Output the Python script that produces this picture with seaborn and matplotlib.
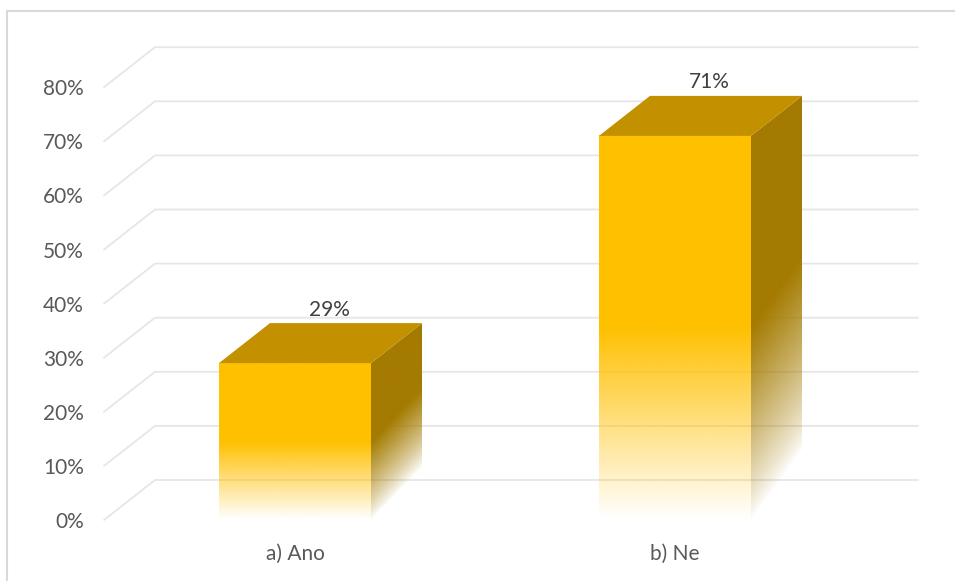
import matplotlib
matplotlib.use("Agg")
import matplotlib.pyplot as plt
from matplotlib.patches import Polygon, Rectangle
import numpy as np
import seaborn as sns

# data
categories = ["a) Ano", "b) Ne"]
values = [0.29, 0.71]
labels = ["29%", "71%"]
ticks = [0.0, 0.1, 0.2, 0.3, 0.4, 0.5, 0.6, 0.7, 0.8]
tick_labels = ["0%", "10%", "20%", "30%", "40%", "50%", "60%", "70%", "80%"]

gold = np.array([255, 192, 0]) / 255
side_col = np.array([164, 123, 0]) / 255
top_col = "#C39100"

sns.set_style("white")
plt.rcParams["font.family"] = ["Lato", "DejaVu Sans"]

fig = plt.figure(figsize=(9.55, 5.81), dpi=100)
W, H = 955, 581
ax = fig.add_axes([95 / W, (H - 538) / H, (W - 95) / W, 538 / H])

# depth of the fake 3d
dx = 51 / 380
dy = 40 / 541

sns.barplot(x=categories, y=values, width=0.4, color="#FFC000", ax=ax, zorder=3)

ax.set_xlim((95 - 295) / 380, (955 - 295) / 380)
ax.set_ylim((520 - 538) / 541, 520 / 541)

# back wall grid lines
xl = (104 - 295) / 380
xr = (918 - 295) / 380
for v in ticks:
    ax.plot([xl, xl + dx, xr], [v, v + dy, v + dy], color="#E6E6E6", lw=1.3, zorder=1)


def fade(t, start):
    return np.clip(t / start, 0, 1)


for bar, v, lab in zip(ax.patches, values, labels):
    x0 = bar.get_x()
    x1 = x0 + bar.get_width()
    bar.set_facecolor("none")
    bar.set_edgecolor("none")

    # front face with fade to white at the bottom
    ys = np.linspace(0, 1, 200)
    a = fade(ys, 0.5)
    img = np.zeros((200, 2, 4))
    img[..., :3] = gold
    img[..., 3] = a[:, None]
    ax.imshow(img, extent=[x0, x1, 0, v], origin="lower", aspect="auto",
              interpolation="bilinear", zorder=4)

    # side face
    nx, ny = 60, 300
    sx = np.linspace(0, 1, nx)
    yy = np.linspace(0, v + dy, ny)
    S, Y = np.meshgrid(sx, yy)
    t = (Y - dy * S) / v
    a = fade(t - 0.08 * S, 0.5) ** 0.8
    img = np.zeros((ny, nx, 4))
    img[..., :3] = side_col
    img[..., 3] = a
    side = Polygon([(x1, 0), (x1 + dx, dy), (x1 + dx, v + dy), (x1, v)],
                   closed=True, facecolor="none", edgecolor="none")
    ax.add_patch(side)
    im = ax.imshow(img, extent=[x1, x1 + dx, 0, v + dy], origin="lower",
                   aspect="auto", interpolation="bilinear", zorder=4)
    im.set_clip_path(side)

    # top face
    ax.add_patch(Polygon([(x0, v), (x0 + dx, v + dy), (x1 + dx, v + dy), (x1, v)],
                         closed=True, facecolor=top_col, edgecolor="none", zorder=5))

    ax.text((x0 + x1) / 2 + 0.09, v + dy + 0.025, lab, ha="center", va="center",
            fontsize=15, color="#404040", zorder=6)

ax.set_xlim((95 - 295) / 380, (955 - 295) / 380)
ax.set_ylim((520 - 538) / 541, 520 / 541)
ax.set_yticks(ticks)
ax.set_yticklabels(tick_labels)
ax.tick_params(axis="y", length=0, pad=8, labelsize=15, labelcolor="#595959")
ax.tick_params(axis="x", length=0, pad=4, labelsize=15, labelcolor="#595959")
ax.set_xlabel("")
ax.set_ylabel("")
sns.despine(ax=ax, left=True, bottom=True)

# chart border
fig.patches.append(Rectangle((6.5 / W, -0.5), 2, 1 - 11.5 / H + 0.5, transform=fig.transFigure,
                             facecolor="none", edgecolor="#D9D9D9", lw=1.5))

fig.savefig("out.png", dpi=100)
